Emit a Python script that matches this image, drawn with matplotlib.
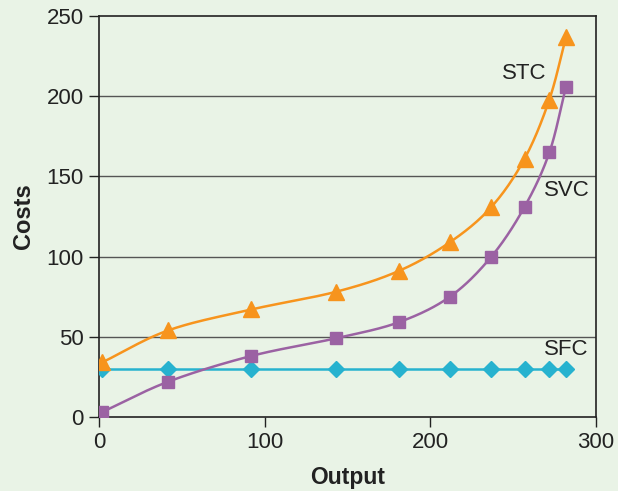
import numpy as np
import matplotlib.pyplot as plt

plt.rcParams['font.family'] = ['Liberation Sans', 'DejaVu Sans']

output = [2, 42, 92, 143, 181, 212, 237, 257, 272, 282]
sfc = [30, 30, 30, 30, 30, 30, 30, 30, 30, 30]
svc = [3, 22, 38, 49, 59, 75, 100, 131, 165, 206]
stc = [34, 54, 67, 78, 91, 109, 131, 161, 198, 237]

bg = '#e9f3e6'
orange = '#f7941d'
purple = '#9b62a3'
cyan = '#27b2cf'


def smooth(x, y, n=30):
    # catmull-rom through the points, only for drawing the line
    x = np.asarray(x, float)
    y = np.asarray(y, float)
    px = np.concatenate([[2 * x[0] - x[1]], x, [2 * x[-1] - x[-2]]])
    py = np.concatenate([[2 * y[0] - y[1]], y, [2 * y[-1] - y[-2]]])
    xs, ys = [], []
    t = np.linspace(0, 1, n)
    for i in range(1, len(px) - 2):
        for p, out in ((px, xs), (py, ys)):
            p0, p1, p2, p3 = p[i - 1], p[i], p[i + 1], p[i + 2]
            out.extend(0.5 * (2 * p1 + (-p0 + p2) * t
                              + (2 * p0 - 5 * p1 + 4 * p2 - p3) * t ** 2
                              + (-p0 + 3 * p1 - 3 * p2 + p3) * t ** 3))
    return xs, ys


fig = plt.figure(figsize=(6.18, 4.91), dpi=100, facecolor=bg)
ax = fig.add_axes([0.160, 0.151, 0.804, 0.816], facecolor=bg)

for v in [50, 100, 150, 200]:
    ax.axhline(v, color='#555555', lw=1, zorder=1)

ax.plot(output, sfc, color=cyan, lw=1.8, marker='D', ms=8, zorder=3)
ax.plot(*smooth(output, svc), color=purple, lw=1.8, zorder=3)
ax.plot(output, svc, ls='none', color=purple, marker='s', ms=9, zorder=4)
ax.plot(*smooth(output, stc), color=orange, lw=1.8, zorder=3)
ax.plot(output, stc, ls='none', color=orange, marker='^', ms=11, zorder=4)

ax.text(270, 214, 'STC', fontsize=16, color='#222222', ha='right', va='center')
ax.text(269, 141, 'SVC', fontsize=16, color='#222222', ha='left', va='center')
ax.text(269, 42, 'SFC', fontsize=16, color='#222222', ha='left', va='center')

ax.set_xlim(0, 300)
ax.set_ylim(0, 250)
ax.set_xticks([0, 100, 200, 300])
ax.set_yticks([0, 50, 100, 150, 200, 250])
ax.tick_params(direction='out', length=7, width=1, labelsize=16,
               colors='#222222', pad=4)
for s in ax.spines.values():
    s.set_color('#222222')
    s.set_linewidth(1.2)

ax.set_xlabel('Output', fontsize=16.5, fontweight='bold', color='#222222', labelpad=9)
ax.set_ylabel('Costs', fontsize=17, fontweight='bold', color='#222222', labelpad=8)

fig.savefig('out.png', dpi=100, facecolor=bg)
